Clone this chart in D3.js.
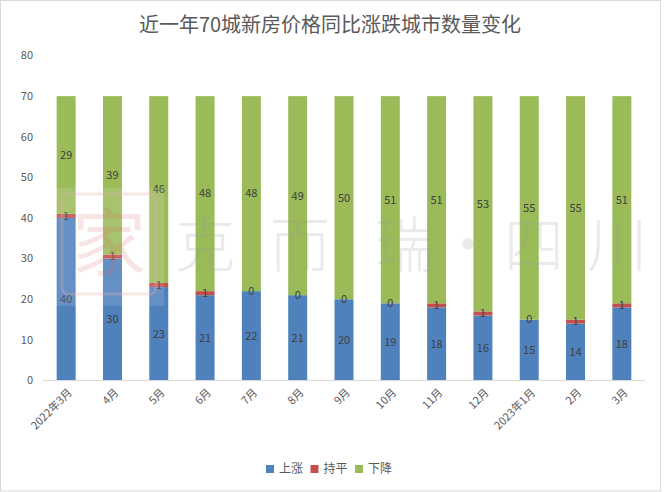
<!DOCTYPE html>
<html>
<head>
<meta charset="utf-8">
<script src="https://cdn.jsdelivr.net/npm/d3@7"></script>
<style>
  body { margin: 0; background: #fff; }
  text { font-family: "Noto Sans CJK SC", "Noto Sans", sans-serif; }
</style>
</head>
<body>
<script>
// data
const months = ["2022年3月", "4月", "5月", "6月", "7月", "8月", "9月", "10月", "11月", "12月", "2023年1月", "2月", "3月"];
const up = [40, 30, 23, 21, 22, 21, 20, 19, 18, 16, 15, 14, 18];
const flat = [1, 1, 1, 1, 0, 0, 0, 0, 1, 1, 0, 1, 1];
const down = [29, 39, 46, 48, 48, 49, 50, 51, 51, 53, 55, 55, 51];
const seriesNames = ["上涨", "持平", "下降"];
const yTicks = [0, 10, 20, 30, 40, 50, 60, 70, 80];

const colors = ["#4f81bd", "#c0504d", "#9bbb59"];
const width = 667, height = 492;

const svg = d3.select("body").append("svg")
    .attr("width", width)
    .attr("height", height);

// outer border
svg.append("rect")
    .attr("x", 0.5).attr("y", 0.5)
    .attr("width", 660).attr("height", 490.5)
    .attr("fill", "#fff")
    .attr("stroke", "#d9d9d9");

svg.append("text")
    .attr("x", 330).attr("y", 32)
    .attr("text-anchor", "middle")
    .attr("font-size", 20)
    .attr("fill", "#595959")
    .text("近一年70城新房价格同比涨跌城市数量变化");

const x = d3.scaleBand().domain(months).range([43, 645]).paddingInner(0.59).paddingOuter(0.295);
const y = d3.scaleLinear().domain([0, 80]).range([380.5, 55.5]);

// y axis labels (no axis line)
svg.append("g").selectAll("text").data(yTicks).join("text")
    .attr("x", 33).attr("y", d => y(d))
    .attr("dy", "0.35em")
    .attr("text-anchor", "end")
    .attr("font-size", 11)
    .attr("fill", "#595959")
    .text(d => d);

const rows = months.map((m, i) => ({ month: m, "上涨": up[i], "持平": flat[i], "下降": down[i] }));
const stacked = d3.stack().keys(seriesNames)(rows);

const layers = svg.append("g").selectAll("g").data(stacked).join("g")
    .attr("fill", (d, i) => colors[i]);

layers.selectAll("rect").data(d => d).join("rect")
    .attr("x", d => x(d.data.month))
    .attr("width", x.bandwidth())
    .attr("y", d => y(d[1]))
    .attr("height", d => y(d[0]) - y(d[1]));

// value labels
const labels = svg.append("g");
stacked.forEach(layer => {
    labels.selectAll(null).data(layer).join("text")
        .attr("x", d => x(d.data.month) + x.bandwidth() / 2)
        .attr("y", d => y((d[0] + d[1]) / 2))
        .attr("dy", "0.35em")
        .attr("text-anchor", "middle")
        .attr("font-size", 11)
        .attr("fill", "#404040")
        .text(d => d[1] - d[0]);
});

// x axis line
svg.append("line")
    .attr("x1", 43).attr("x2", 645)
    .attr("y1", y(0)).attr("y2", y(0))
    .attr("stroke", "#d9d9d9");

svg.append("g").selectAll("text").data(months).join("text")
    .attr("transform", d => `translate(${x(d) + x.bandwidth() / 2 + 4},${y(0) + 10}) rotate(-45)`)
    .attr("text-anchor", "end")
    .attr("dy", "0.35em")
    .attr("font-size", 11)
    .attr("fill", "#595959")
    .text(d => d);

// watermark
const wm = svg.append("g").attr("pointer-events", "none");
wm.append("rect")
    .attr("x", 52).attr("y", 188).attr("width", 112).attr("height", 118)
    .attr("fill", "#fff").attr("opacity", 0.12);
wm.append("rect")
    .attr("x", 62).attr("y", 194).attr("width", 94).attr("height", 100).attr("rx", 6)
    .attr("fill", "none").attr("stroke", "#e8b0b0").attr("stroke-width", 3).attr("opacity", 0.3);
wm.append("text")
    .attr("x", 109).attr("y", 270)
    .attr("text-anchor", "middle")
    .attr("font-size", 74)
    .attr("fill", "#e06060").attr("opacity", 0.16)
    .text("家");
const wmChars = [["克", 205], ["而", 300], ["瑞", 405], ["·", 468], ["四", 534], ["川", 617]];
wm.selectAll(null).data(wmChars).join("text")
    .attr("x", d => d[1])
    .attr("y", 267)
    .attr("text-anchor", "middle")
    .attr("font-size", 60)
    .attr("font-weight", 300)
    .attr("fill", "#999").attr("opacity", 0.2)
    .text(d => d[0]);

// legend
const legend = svg.append("g").selectAll("g").data(seriesNames).join("g")
    .attr("transform", (d, i) => `translate(${266 + i * 44.5},465)`);
legend.append("rect")
    .attr("width", 8).attr("height", 8)
    .attr("fill", (d, i) => colors[i]);
legend.append("text")
    .attr("x", 13).attr("y", 4)
    .attr("dy", "0.35em")
    .attr("font-size", 12)
    .attr("fill", "#595959")
    .text(d => d);
</script>
</body>
</html>
